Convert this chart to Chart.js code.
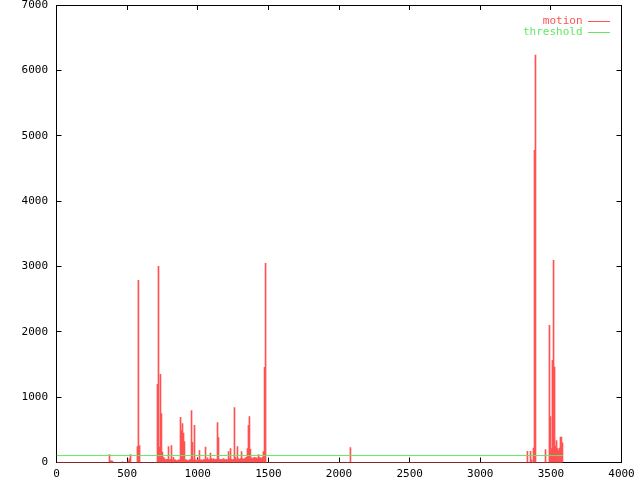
<!DOCTYPE html>
<html>
<head>
<meta charset="utf-8">
<script src="https://cdn.jsdelivr.net/npm/chart.js@4/dist/chart.umd.min.js"></script>
<style>
html,body{margin:0;padding:0;background:#fff;}
#wrap{width:640px;height:480px;}
</style>
</head>
<body>
<div id="wrap"><canvas id="c" width="640" height="480"></canvas></div>
<script>
// ---- data (frame index, motion value) ----
const frames = [
  375,382,389,396,467,510,517,524,573,580,588,
  715,722,729,736,743,750,758,765,772,779,786,793,800,807,814,821,828,835,842,850,
  857,864,871,878,885,892,899,906,913,920,927,935,942,949,956,963,970,977,984,991,
  998,1005,1012,1019,1027,1034,1041,1048,1055,1062,1069,1076,1083,1090,1097,1104,
  1112,1119,1126,1133,1140,1147,1154,1161,1168,1175,1182,1189,1196,1204,1211,1218,
  1225,1232,1239,1246,1253,1260,1267,1274,1281,1288,1296,1303,1310,1317,1324,1331,
  1338,1345,1352,1359,1366,1373,1381,1388,1395,1402,1409,1416,1423,1430,1437,1444,
  1451,1458,1465,1473,1480,
  2081,
  3334,3356,3363,3377,3384,3391,3462,3490,3497,3504,3511,3519,3526,3533,3540,3547,
  3554,3561,3568,3575,3582
];
const motion = [
  122,25,25,20,10,30,60,120,245,2787,260,
  1195,3000,235,1348,750,158,80,60,40,50,50,245,40,50,260,40,80,40,40,30,
  30,40,40,690,490,597,450,320,40,40,30,30,40,50,796,310,40,567,40,30,
  50,40,184,40,40,30,50,40,235,50,70,40,50,143,60,50,
  60,40,50,50,612,383,50,40,50,40,60,50,40,50,40,168,
  60,214,50,40,50,842,80,50,245,60,50,60,168,60,50,60,
  70,80,214,567,704,200,70,60,70,80,70,70,60,122,80,70,
  60,80,168,1455,3047,
  230,
  170,170,40,219,4778,6233,199,2098,704,214,1562,3093,1460,250,337,214,
  184,219,388,388,300
];
const baselineFrames = [0, 3586];
const baselineValues = [0, 0];
const thresholdFrames = [0, 3586];
const thresholdValues = [106, 106];
const seriesNames = ['motion', 'threshold'];
const xTickStep = 500, xMin = 0, xMax = 4000;
const yTickStep = 1000, yMin = 0, yMax = 7000;

const RED = 'rgb(255,82,82)';
const GREEN = 'rgb(100,230,100)';

Chart.defaults.font.family = "'DejaVu Sans Mono', 'Liberation Mono', monospace";
Chart.defaults.font.size = 11;
Chart.defaults.color = '#000';

const toXY = (xs, ys) => xs.map((x, i) => ({x: x, y: ys[i]}));
const plain = (v) => String(v);

const gridCommon = {drawOnChartArea: false, drawTicks: true, tickLength: -5, color: '#000', lineWidth: 1};
const borderCommon = {display: true, color: '#000', width: 1};

const legendShift = {
  id: 'legendShift',
  afterLayout(chart) {
    const L = chart.legend, ca = chart.chartArea;
    if (!L) return;
    L.width = ca.right - ca.left;
    L.left = ca.left - 11.5;
    L.right = L.left + L.width;
    L.top = ca.top + 11;
    L.bottom = L.top + 30;
  }
};

new Chart(document.getElementById('c'), {
  type: 'bar',
  data: {
    datasets: [
      {
        type: 'line', label: seriesNames[1], data: toXY(thresholdFrames, thresholdValues),
        borderColor: GREEN, borderWidth: 1, pointRadius: 0, fill: false, order: 0,
        xAxisID: 'x', yAxisID: 'y'
      },
      {
        type: 'line', label: 'motion-zero', data: toXY(baselineFrames, baselineValues),
        borderColor: RED, borderWidth: 1, pointRadius: 0, fill: false, order: 1,
        xAxisID: 'x', yAxisID: 'y'
      },
      {
        type: 'bar', label: seriesNames[0], data: toXY(frames, motion),
        backgroundColor: RED, borderWidth: 0, barThickness: 1, order: 2,
        grouped: false, xAxisID: 'x', yAxisID: 'y'
      }
    ]
  },
  options: {
    responsive: false,
    animation: false,
    events: [],
    layout: {padding: {top: 5, right: 18.5, bottom: 0, left: 0}},
    plugins: {
      tooltip: {enabled: false},
      legend: {
        display: true,
        position: 'chartArea',
        align: 'start',
        rtl: true,
        labels: {
          boxWidth: 22, boxHeight: 1, padding: 0,
          font: {size: 11},
          generateLabels: () => [
            {text: seriesNames[0], fillStyle: RED, strokeStyle: RED, lineWidth: 0, fontColor: RED, hidden: false, datasetIndex: 2},
            {text: seriesNames[1], fillStyle: GREEN, strokeStyle: GREEN, lineWidth: 0, fontColor: GREEN, hidden: false, datasetIndex: 0}
          ]
        }
      }
    },
    scales: {
      x: {
        type: 'linear', position: 'bottom', min: xMin, max: xMax, offset: false,
        grid: Object.assign({offset: false}, gridCommon), border: borderCommon,
        ticks: {stepSize: xTickStep, autoSkip: false, maxRotation: 0, padding: 10, color: '#000', callback: plain},
        afterFit(s) { s.height = 17.5; s.paddingLeft = 0; s.paddingRight = 0; }
      },
      x2: {
        type: 'linear', position: 'top', min: xMin, max: xMax, offset: false,
        grid: Object.assign({offset: false}, gridCommon), border: borderCommon,
        ticks: {stepSize: xTickStep, display: false},
        afterFit(s) { s.height = 0; s.paddingLeft = 0; s.paddingRight = 0; }
      },
      y: {
        type: 'linear', position: 'left', min: yMin, max: yMax,
        grid: gridCommon, border: borderCommon,
        ticks: {stepSize: yTickStep, padding: 13.5, color: '#000', callback: plain},
        afterFit(s) { s.width = 56.5; s.paddingTop = 0; s.paddingBottom = 0; }
      },
      y2: {
        type: 'linear', position: 'right', min: yMin, max: yMax,
        grid: gridCommon, border: borderCommon,
        ticks: {stepSize: yTickStep, display: false},
        afterFit(s) { s.width = 0; s.paddingTop = 0; s.paddingBottom = 0; }
      }
    }
  },
  plugins: [legendShift]
});
</script>
</body>
</html>
